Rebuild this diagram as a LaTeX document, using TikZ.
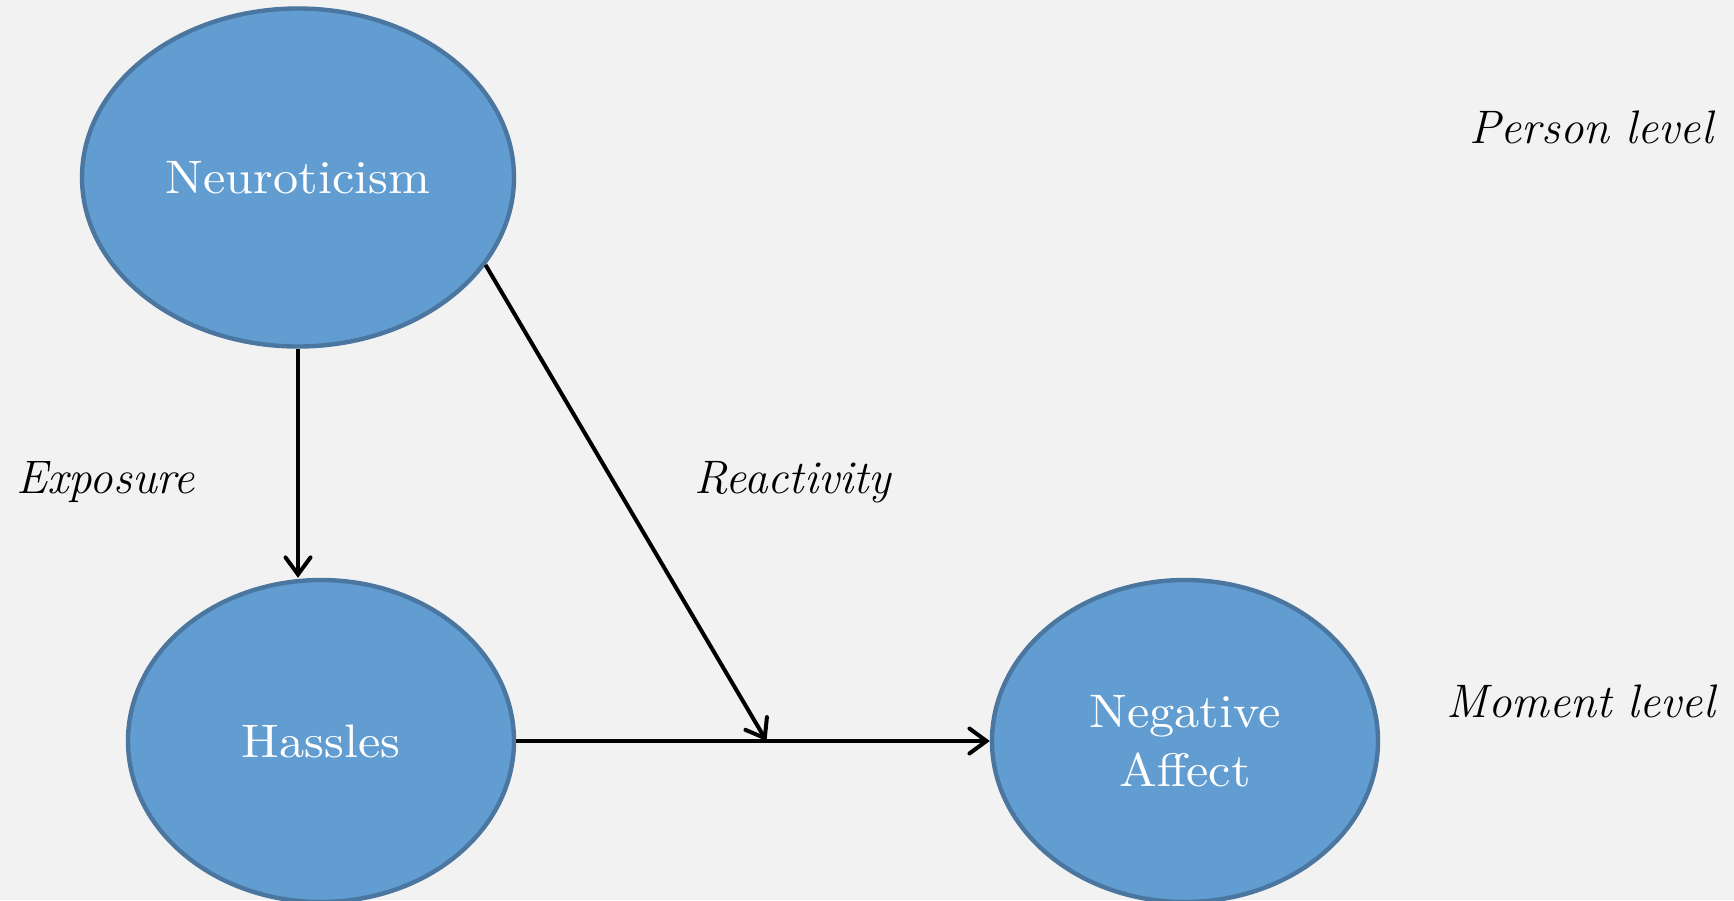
\documentclass[tikz,border=0pt]{standalone}
\usepackage{fontspec}
\usetikzlibrary{shapes.geometric,arrows.meta}
\newfontfamily\constructfont{lmroman10-regular.otf}[FakeStretch=1.07]
\definecolor{bg}{HTML}{F2F2F2}
\definecolor{nodefill}{HTML}{629DD1}
\definecolor{nodeline}{HTML}{4A76A0}
\begin{document}
\begin{tikzpicture}[x=1pt,y=-1pt,
  latent/.style={ellipse, draw=nodeline, fill=nodefill, line width=4.4pt,
    text=white, font=\constructfont\fontsize{47}{58.7}\selectfont, align=center, inner sep=0pt},
  effect/.style={line width=4pt, draw=black,
    -{Straight Barb[length=17pt,width=25pt,line cap=round]}},
  levellabel/.style={font=\fontsize{47}{56}\selectfont\itshape, inner sep=0pt}]
  % canvas
  \useasboundingbox (0,0) rectangle (1734,900);
  \clip (0,0) rectangle (1734,900);
  \fill[bg] (0,0) rectangle (1734,900);

  % constructs
  \node[latent, minimum width=432pt, minimum height=338pt] (N) at (298,177.5) {Neuroticism};
  \node[latent, minimum width=386pt, minimum height=322pt] (H) at (321,741) {Hassles};
  \node[latent, minimum width=386pt, minimum height=322pt] (A) at (1185,741) {Negative\\Affect};

  % level and path labels
  \node[levellabel, anchor=base east] (person) at (1713,143) {Person level};
  \node[levellabel, anchor=base east] (moment) at (1715,717) {Moment level};
  \node[levellabel, anchor=base west] (exposure) at (16,493) {Exposure};
  \node[levellabel, anchor=base west] (reactivity) at (694,493) {Reactivity};

  % paths
  \coordinate (join) at (766.5,741);
  \draw[effect] (N.south) -- (N.south |- H.north);
  \draw[effect] (H.east) -- (A.west);
  \draw[effect] (N.-25) -- (join);
\end{tikzpicture}
\end{document}
